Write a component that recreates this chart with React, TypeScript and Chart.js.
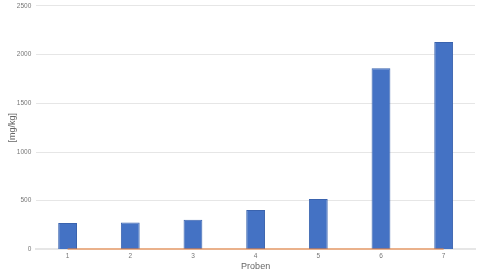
import React, { useEffect, useRef } from "react";
import { Chart, registerables } from "chart.js";

Chart.register(...registerables);

const categories = ["1", "2", "3", "4", "5", "6", "7"];
const barValues = [270, 276, 305, 405, 517, 1861, 2130];
const lineValues = [2, 2, 2, 2, 2, 2, 2];
const yTicks = [0, 500, 1000, 1500, 2000, 2500];

export default function App() {
  const ref = useRef<HTMLCanvasElement | null>(null);
  useEffect(() => {
    if (!ref.current) return;
    const chart = new Chart(ref.current, {
      data: {
        labels: categories,
        datasets: [
          {
            type: "line",
            data: lineValues,
            borderColor: "#ED7D31",
            borderWidth: 1.5,
            pointRadius: 0,
            order: 0,
          },
          {
            type: "bar",
            data: barValues,
            backgroundColor: "#4472C4",
            borderColor: "#3A63AE",
            borderWidth: 1,
            barPercentage: 0.3,
            categoryPercentage: 1,
            order: 1,
          },
        ],
      },
      options: {
        animation: false,
        responsive: false,
        maintainAspectRatio: false,
        layout: { autoPadding: false, padding: { left: 7, right: 5, top: 1, bottom: 4 } },
        plugins: { legend: { display: false }, tooltip: { enabled: false } },
        scales: {
          x: {
            grid: { display: false, drawTicks: false },
            border: { display: true, color: "#e6e6e6", width: 2 },
            ticks: { color: "#777", font: { size: 6.5, family: "Arial" }, padding: 3 },
            title: {
              display: true,
              text: "Proben",
              color: "#666",
              font: { size: 9, family: "Arial" },
              padding: { top: -2, bottom: 0 },
            },
          },
          y: {
            min: 0,
            max: 2500,
            afterBuildTicks: (axis: any) => {
              axis.ticks = yTicks.map((v) => ({ value: v }));
            },
            grid: { color: "#e6e6e6", drawTicks: false },
            border: { display: false },
            ticks: {
              color: "#777",
              font: { size: 6.5, family: "Arial" },
              padding: 5,
              callback: (v: any) => String(v),
            },
            title: {
              display: true,
              text: "[mg/kg]",
              color: "#666",
              font: { size: 9, family: "Arial" },
              padding: { top: 0, bottom: -6 },
            },
          },
        },
      },
    });
    return () => chart.destroy();
  }, []);
  return (
    <div style={{ position: "fixed", left: 0, top: -3, width: 480, height: 279, background: "#fff" }}>
      <canvas ref={ref} width={480} height={279} style={{ width: 480, height: 279 }} />
    </div>
  );
}
